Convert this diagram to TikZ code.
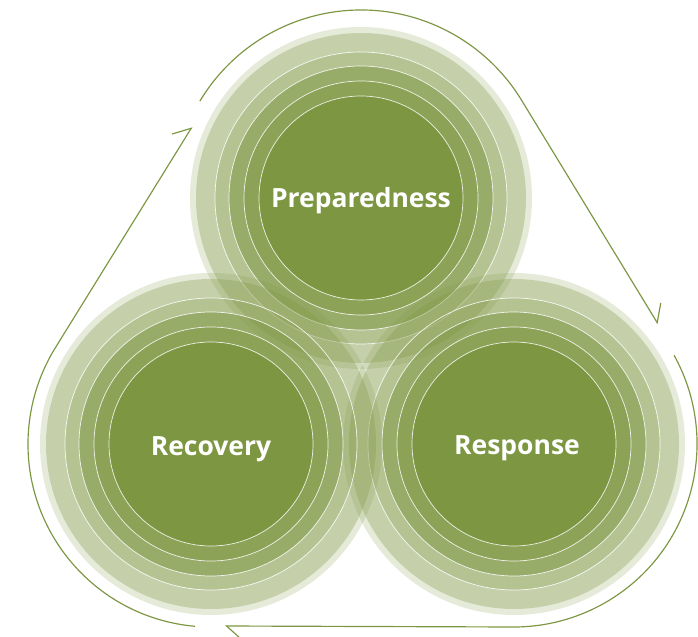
\documentclass[tikz,border=0pt]{standalone}
\usepackage{fontspec}
\setmainfont{Open Sans}
\usetikzlibrary{arrows.meta,calc}
\definecolor{leaf}{HTML}{7D9642}

\begin{document}
\begin{tikzpicture}[x=0.03cm,y=0.03cm,
    rim/.style={draw=white,line width=0.6pt,draw opacity=0.85},
    phase/.style={text=white,anchor=base,font=\bfseries\fontsize{22.6}{26}\selectfont},
    cycle/.style={draw=leaf,line width=1pt,-{Straight Barb[left,length=4.5mm,width=8mm]}}]
    \useasboundingbox (0,0) rectangle (698,636);

    % Centres of the three phases
    \coordinate (cP) at (361,438);
    \coordinate (cS) at (514,192);
    \coordinate (cR) at (211,192);

    % Rings
    \foreach \c in {cP,cS,cR}{
    \fill[leaf,opacity=0.20] (\c) circle(171);
    \fill[leaf,opacity=0.30] (\c) circle(165);
    \foreach \r/\a in {146/0.23,132/0.51,117/0.45,102/1}{
    \fill[leaf,opacity=\a] (\c) circle(\r);
    \draw[rim] (\c) circle(\r);
    }
    }

    % Labels
    \node[phase] (prep) at (361,428) {Preparedness};
    \node[phase] (resp) at (517,182) {Response};
    \node[phase] (recov) at (211,181) {Recovery};

    % Cycle arrows
    \coordinate (tipS) at (658,312);
    \coordinate (tipB) at (225,10);
    \coordinate (tipL) at (192,509);
    \draw[cycle] ($(cP)+(149:188)$) arc[start angle=149,end angle=32,radius=188] -- (tipS);
    \draw[cycle] ($(cS)+(29:183)$) arc[start angle=29,end angle=-90,radius=183] -- (tipB);
    \draw[cycle] ($(cR)+(265:183)$) arc[start angle=265,end angle=148,radius=183] -- (tipL);
\end{tikzpicture}
\end{document}
